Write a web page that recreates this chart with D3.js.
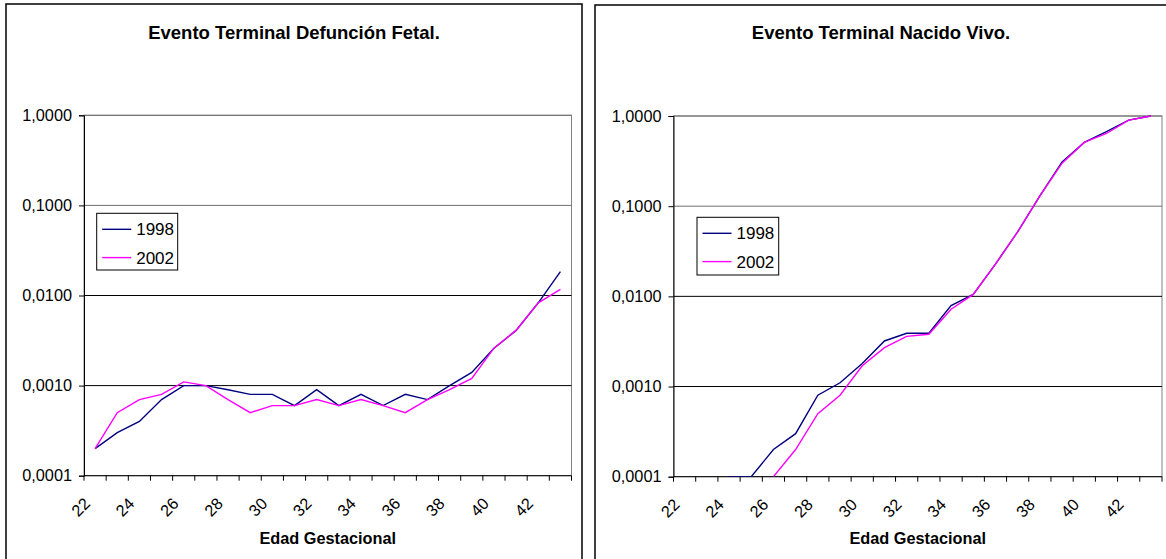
<!DOCTYPE html>
<html>
<head>
<meta charset="utf-8">
<script src="https://cdn.jsdelivr.net/npm/d3@7"></script>
<style>
  html, body { margin: 0; padding: 0; background: #fff; }
  svg { display: block; font-family: "Liberation Sans", Arial, sans-serif; }
</style>
</head>
<body>
<svg id="chart" width="1166" height="559"></svg>
<script>
// ---- data ----
const categories = [22,23,24,25,26,27,28,29,30,31,32,33,34,35,36,37,38,39,40,41,42,43];
const xTickLabels = [22,24,26,28,30,32,34,36,38,40,42];
const yTickValues = [0.0001, 0.001, 0.01, 0.1, 1];
const seriesNames = ["1998", "2002"];
const seriesColors = ["#000080", "#FF00FF"];

const fetal1998 = [0.0002,0.0003,0.0004,0.0007,0.0010,0.0010,0.0009,0.0008,0.0008,0.0006,0.0009,0.0006,0.0008,0.0006,0.0008,0.0007,0.0010,0.0014,0.0026,0.0041,0.0083,0.0184];
const fetal2002 = [0.0002,0.0005,0.0007,0.0008,0.0011,0.0010,0.0007,0.0005,0.0006,0.0006,0.0007,0.0006,0.0007,0.0006,0.0005,0.0007,0.0009,0.0012,0.0026,0.0041,0.0083,0.0117];

const vivo1998 = [null,null,0.0001,0.0001,0.0002,0.0003,0.0008,0.0011,0.0018,0.0032,0.0039,0.0039,0.0079,0.0105,0.0228,0.052,0.13,0.31,0.51,0.67,0.90,1.0];
const vivo2002 = [null,null,null,null,0.0001,0.0002,0.0005,0.0008,0.0017,0.0027,0.0036,0.0038,0.0072,0.0105,0.0228,0.052,0.13,0.30,0.51,0.64,0.90,1.0];

const titles = ["Evento Terminal Defunción Fetal.", "Evento Terminal Nacido Vivo."];
const xAxisTitle = "Edad Gestacional";

// ---- layout ----
const panels = [
  { px0: 6, px1: 582, py0: 4, x0: 84, x1: 571.5, y0: 115.3, y1: 475.7,
    legend: { x: 96.7, y: 213.3, w: 81, h: 56.7 }, series: [fetal1998, fetal2002], title: titles[0] },
  { px0: 595, px1: 1167, py0: 5, x0: 673.5, x1: 1162, y0: 116, y1: 476.7,
    legend: { x: 697, y: 217.3, w: 81.7, h: 57.7 }, series: [vivo1998, vivo2002], title: titles[1] }
];

const svg = d3.select("#chart");
const fmtLocale = d3.formatLocale({ decimal: ",", thousands: ".", grouping: [3], currency: ["", ""] });
const yFmt = fmtLocale.format(".4f");

panels.forEach((p, pi) => {
  const g = svg.append("g");

  // panel border
  g.append("rect")
    .attr("x", p.px0).attr("y", p.py0)
    .attr("width", p.px1 - p.px0).attr("height", 600)
    .attr("fill", "#fff").attr("stroke", "#000").attr("stroke-width", 1.5);

  // title
  g.append("text")
    .attr("x", (p.px0 + p.px1) / 2).attr("y", 39)
    .attr("text-anchor", "middle")
    .attr("font-weight", "bold").attr("font-size", 18.5)
    .text(p.title);

  const x = d3.scaleBand().domain(categories).range([p.x0, p.x1]).paddingInner(0).paddingOuter(0);
  const y = d3.scaleLog().domain([0.0001, 1]).range([p.y1, p.y0]);

  // plot area border (gray)
  g.append("rect")
    .attr("x", p.x0).attr("y", p.y0)
    .attr("width", p.x1 - p.x0).attr("height", p.y1 - p.y0)
    .attr("fill", "none").attr("stroke", "#808080").attr("stroke-width", 1);

  // gridlines
  g.append("g").selectAll("line")
    .data(yTickValues.filter(v => v > 0.0001))
    .join("line")
    .attr("x1", p.x0).attr("x2", p.x1)
    .attr("y1", d => y(d)).attr("y2", d => y(d))
    .attr("stroke", d => d >= 0.1 ? "#6e6e6e" : "#000")
    .attr("stroke-width", 1);

  // y axis
  const yAxis = d3.axisLeft(y).tickValues(yTickValues).tickFormat(yFmt).tickSize(5).tickPadding(7);
  const ya = g.append("g").attr("transform", `translate(${p.x0},0)`).call(yAxis);
  ya.select(".domain").attr("stroke", "#000");
  ya.selectAll(".tick line").attr("stroke", "#000");
  ya.selectAll("text").attr("font-size", 16.3).attr("fill", "#000")
    .attr("font-family", "'Liberation Sans', Arial, sans-serif");

  // x axis: baseline + ticks at category boundaries
  const bounds = categories.map(c => x(c)).concat([p.x1]);
  const xa = g.append("g");
  xa.append("line").attr("x1", p.x0).attr("x2", p.x1).attr("y1", p.y1).attr("y2", p.y1).attr("stroke", "#000");
  xa.selectAll("line.tk").data(bounds).join("line").attr("class", "tk")
    .attr("x1", d => d).attr("x2", d => d).attr("y1", p.y1).attr("y2", p.y1 + 5).attr("stroke", "#000");
  xa.selectAll("text").data(xTickLabels).join("text")
    .attr("transform", d => `translate(${x(d) + x.bandwidth() / 2 - 4},${p.y1 + 29}) rotate(-45)`)
    .attr("text-anchor", "end")
    .attr("font-size", 16.3)
    .text(d => d);

  // x axis title
  g.append("text")
    .attr("x", (p.x0 + p.x1) / 2).attr("y", 544)
    .attr("text-anchor", "middle").attr("font-weight", "bold").attr("font-size", 16.3)
    .text(xAxisTitle);

  // lines
  const clipId = "clip" + pi;
  g.append("clipPath").attr("id", clipId).append("rect")
    .attr("x", p.x0).attr("y", p.y0 - 2).attr("width", p.x1 - p.x0).attr("height", p.y1 - p.y0 + 2);
  const line = d3.line()
    .defined(d => d != null)
    .x((d, i) => x(categories[i]) + x.bandwidth() / 2)
    .y(d => y(d));
  p.series.forEach((s, si) => {
    g.append("path")
      .attr("clip-path", `url(#${clipId})`)
      .attr("d", line(s))
      .attr("fill", "none")
      .attr("stroke", seriesColors[si])
      .attr("stroke-width", 1.4);
  });

  // legend
  const L = p.legend;
  const lg = g.append("g");
  lg.append("rect").attr("x", L.x).attr("y", L.y).attr("width", L.w).attr("height", L.h)
    .attr("fill", "#fff").attr("stroke", "#000").attr("stroke-width", 1);
  seriesNames.forEach((n, i) => {
    const ly = L.y + 16 + i * 28.3;
    lg.append("line").attr("x1", L.x + 5.5).attr("x2", L.x + 34.5).attr("y1", ly).attr("y2", ly)
      .attr("stroke", seriesColors[i]).attr("stroke-width", 1.4);
    lg.append("text").attr("x", L.x + 39.5).attr("y", ly + 6)
      .attr("font-size", 17).text(n);
  });
});
</script>
</body>
</html>
